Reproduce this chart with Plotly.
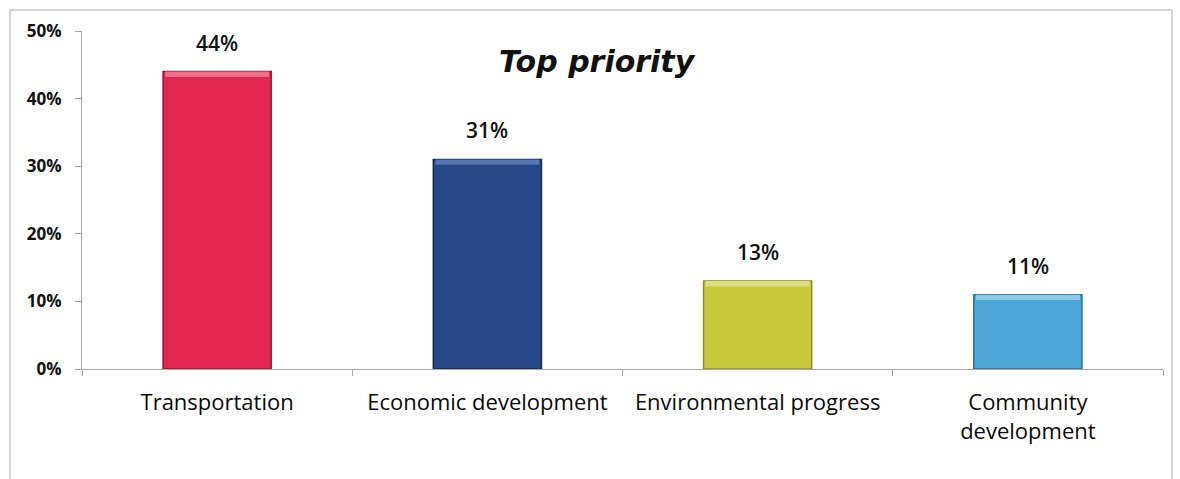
import plotly.graph_objects as go

categories = ["Transportation", "Economic development", "Environmental progress", "Community<br>development"]
values = [44, 31, 13, 11]
colors = ["#E3264F", "#264886", "#C9C93C", "#4CA6D6"]
bevel_colors = ["#EE6E86", "#5576B0", "#DDDD80", "#8CCAEB"]
edge_colors = ["#9E1434", "#16295A", "#8E8E1E", "#2A7099"]
tick_vals = [0, 10, 20, 30, 40, 50]
tick_text = ["0%", "10%", "20%", "30%", "40%", "50%"]
labels = [f"{v}%" for v in values]

bevel_depth = 0.8  # thickness of the lighter top edge, in axis units

fig = go.Figure()
fig.add_trace(go.Bar(
    x=categories, y=values, width=0.4,
    marker=dict(color=colors, line=dict(color=edge_colors, width=1.5)),
    hoverinfo="skip",
))
# lighter bevel along the top of each bar
fig.add_trace(go.Bar(
    x=categories, y=[bevel_depth] * len(values),
    base=[v - bevel_depth for v in values], width=0.385,
    marker=dict(color=bevel_colors, line=dict(width=0)),
    hoverinfo="skip",
))

# value labels above the bars
annotations = [
    dict(x=c, y=v, text=t, showarrow=False, yanchor="bottom", yshift=13,
         font=dict(family="Open Sans", size=21, color="#111111", weight=600))
    for c, v, t in zip(categories, values, labels)
]
annotations.append(dict(
    text="<b><i>Top priority</i></b>", x=0.477, y=0.968, xref="paper", yref="paper",
    showarrow=False, font=dict(size=30, family="DejaVu Sans", color="#111111"),
))

fig.update_layout(
    width=1180, height=479,
    margin=dict(l=82, r=17, t=31, b=110),
    paper_bgcolor="white", plot_bgcolor="white",
    showlegend=False,
    barmode="overlay",
    font=dict(family="Open Sans", color="#111111"),
    xaxis=dict(
        showline=True, linecolor="#A8A8A8", linewidth=1,
        ticks="outside", ticklen=6, tickcolor="#A8A8A8", tickson="boundaries",
        tickfont=dict(size=22, family="Open Sans", color="#0A0A0A", weight=500),
        ticklabelstandoff=14,
        showgrid=False,
    ),
    yaxis=dict(
        range=[0, 50], tickvals=tick_vals, ticktext=tick_text,
        showline=True, linecolor="#A8A8A8", linewidth=1,
        ticks="outside", ticklen=6, tickcolor="#A8A8A8",
        tickfont=dict(size=17, family="Open Sans", color="#111111", weight="bold"),
        ticklabelstandoff=10,
        showgrid=False, zeroline=False,
    ),
    annotations=annotations,
    shapes=[dict(
        type="rect", xref="paper", yref="paper",
        x0=-0.0666, x1=1.0083, y0=-0.5, y1=1.062,
        line=dict(color="#C8C8C8", width=1.5), layer="below",
    )],
)

fig.write_html("out.html")
